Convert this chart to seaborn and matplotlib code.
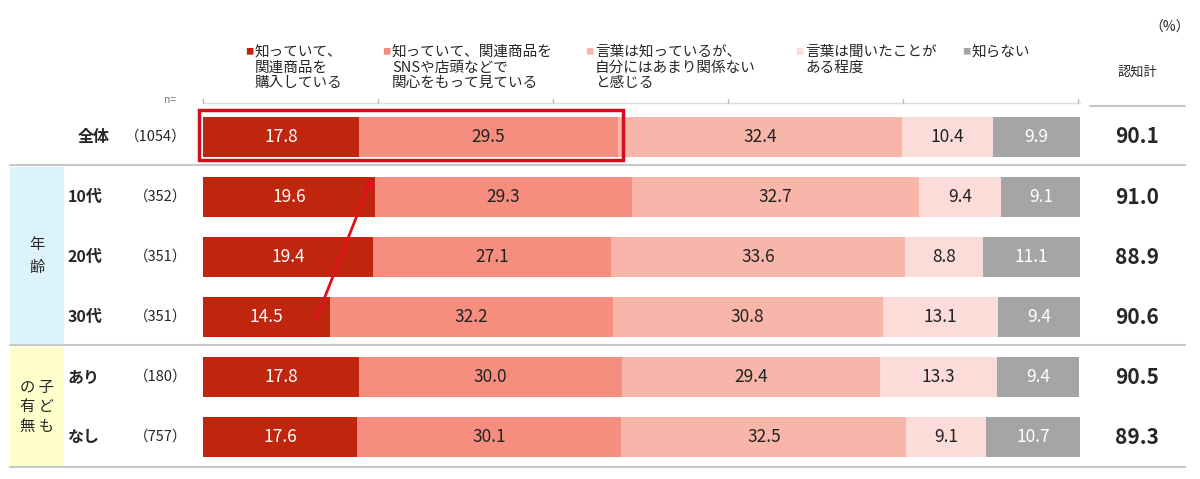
import numpy as np
import pandas as pd
import seaborn as sns
from matplotlib import pyplot as plt
from matplotlib.patches import Rectangle

sns.set_theme(style="white")
plt.rcParams['font.family'] = ['Noto Sans CJK JP', 'DejaVu Sans']

rows = ["全体", "10代", "20代", "30代", "あり", "なし"]
n_labels = ["(1054)", "(352)", "(351)", "(351)", "(180)", "(757)"]
bought = [17.8, 19.6, 19.4, 14.5, 17.8, 17.6]
interested = [29.5, 29.3, 27.1, 32.2, 30.0, 30.1]
not_related = [32.4, 32.7, 33.6, 30.8, 29.4, 32.5]
heard = [10.4, 9.4, 8.8, 13.1, 13.3, 9.1]
unknown = [9.9, 9.1, 11.1, 9.4, 9.4, 10.7]
aware_total = ["90.1", "91.0", "88.9", "90.6", "90.5", "89.3"]
series_names = ["知っていて、\n関連商品を\n購入している",
                "知っていて、関連商品を\nSNSや店頭などで\n関心をもって見ている",
                "言葉は知っているが、\n自分にはあまり関係ない\nと感じる",
                "言葉は聞いたことが\nある程度",
                "知らない"]
colors = ["#C0250E", "#F58E7E", "#F8B6AA", "#FCDCD8", "#A5A5A5"]
text_colors = ["white", "#222222", "#222222", "#222222", "white"]

df = pd.DataFrame({"row": rows, "s0": bought, "s1": interested, "s2": not_related,
                   "s3": heard, "s4": unknown})

W, H = 1200, 479
fig = plt.figure(figsize=(12, 4.79), dpi=100)
x0, x1 = 203, 1080
ax = fig.add_axes([x0 / W, 1 - 467 / H, (x1 - x0) / W, 360 / H])

left = np.zeros(len(rows))
for k in range(5):
    vals = df[f"s{k}"].to_numpy()
    sns.barplot(x=left + vals, y=np.arange(len(rows)), orient="h", color=colors[k],
                saturation=1, linewidth=0, ax=ax, native_scale=True, width=0.667,
                zorder=5 - k)
    for i, v in enumerate(vals):
        ax.text(left[i] + v / 2, i, f"{v:.1f}", ha="center", va="center",
                fontsize=12.5, color=text_colors[k], zorder=10)
    left += vals
ax.set_xlim(0, 100)
ax.set_ylim(5.5, -0.5)
ax.axis("off")

def fx(px):
    return px / W
def fy(py):
    return 1 - py / H

# left category boxes
fig.patches.append(Rectangle((fx(10), fy(345)), fx(53), (345 - 167) / H,
                             transform=fig.transFigure, color="#DDF3FB", zorder=0))
fig.patches.append(Rectangle((fx(10), fy(465)), fx(53), (465 - 347) / H,
                             transform=fig.transFigure, color="#FFFFCC", zorder=0))
fig.text(fx(37), fy(256), "年\n齢", ha="center", va="center", fontsize=11, linespacing=1.4)
fig.text(fx(37), fy(407), "の 子\n有 ど\n無 も", ha="center", va="center", fontsize=11,
         linespacing=1.2)
for py in [165, 345, 467]:
    fig.add_artist(plt.Line2D([fx(10), fx(1185)], [fy(py), fy(py)], color="#C8C8C8", lw=1.5))

for i, (r, n, t) in enumerate(zip(rows, n_labels, aware_total)):
    py = 137 + 60 * i
    fig.text(fx(78 if i == 0 else 68), fy(py), r, ha="left", va="center", fontsize=11.5,
             fontweight="bold")
    fig.text(fx(187), fy(py), n.replace("(", "（").replace(")", "）"), ha="right",
             va="center", fontsize=10.5)
    fig.text(fx(1137), fy(py), t, ha="center", va="center", fontsize=15, fontweight="bold")

fig.text(fx(170), fy(100), "n=", ha="center", va="center", fontsize=7.5, color="#777777")
fig.text(fx(1137), fy(72), "認知計", ha="center", va="center", fontsize=9.5)
fig.text(fx(1170), fy(28), "（%）", ha="center", va="center", fontsize=10)
fig.add_artist(plt.Line2D([fx(1090), fx(1185)], [fy(106), fy(106)], color="#C8C8C8", lw=1.5))

# legend header
fig.add_artist(plt.Line2D([fx(203), fx(1080)], [fy(103), fy(103)], color="#DDDDDD", lw=1))
leg_x = [245, 382, 585, 795, 962]
for k, (lx, name) in enumerate(zip(leg_x, series_names)):
    fig.text(fx(lx), fy(52), "■", color=colors[k], fontsize=6, ha="left", va="center")
    fig.text(fx(lx + 10), fy(45), name, ha="left", va="top", fontsize=10.5, linespacing=1.15)
for tx in [203, 378, 553, 728, 903, 1078]:
    fig.add_artist(plt.Line2D([fx(tx), fx(tx)], [fy(99), fy(103)], color="#BBBBBB", lw=1))

# highlight box and arrow
fig.patches.append(Rectangle((fx(199), fy(160)), fx(623 - 199), 50 / H,
                             transform=fig.transFigure, fill=False, ec="#D0101A", lw=2.5,
                             zorder=20))
ax.annotate("", xy=(fx(373), fy(175)), xytext=(fx(315), fy(322)),
            xycoords="figure fraction", textcoords="figure fraction",
            arrowprops=dict(arrowstyle="-|>", color="#E0101A", lw=2, mutation_scale=12),
            zorder=30)

fig.savefig("out.png", dpi=100)
